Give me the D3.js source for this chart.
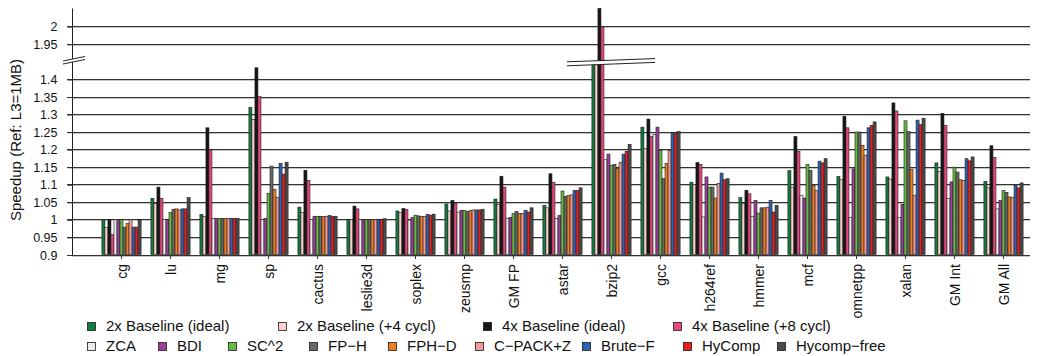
<!DOCTYPE html>
<html>
<head>
<meta charset="utf-8">
<script src="https://cdn.jsdelivr.net/npm/d3@7"></script>
<style>
  body { margin: 0; background: #fff; }
  text { font-family: "Liberation Sans", Arial, Helvetica, sans-serif; fill: #111; }
</style>
</head>
<body>
<div id="chart"></div>
<script>
// benchmarks on the x axis
var benchmarks = ["cg", "lu", "mg", "sp", "cactus", "leslie3d", "soplex", "zeusmp", "GM FP",
    "astar", "bzip2", "gcc", "h264ref", "hmmer", "mcf", "omnetpp", "xalan", "GM Int", "GM All"];

var seriesNames = ["2x Baseline (ideal)", "2x Baseline (+4 cycl)", "4x Baseline (ideal)", "4x Baseline (+8 cycl)",
    "ZCA", "BDI", "SC^2", "FP\u2212H", "FPH\u2212D", "C\u2212PACK+Z", "Brute\u2212F", "HyComp", "Hycomp\u2212free"];

var seriesColors = ["#127a3c", "#fbd0d0", "#161616", "#e8487c", "#ececec", "#9c3f9c", "#66bb44",
    "#686868", "#f07f1f", "#f39a9a", "#2f63b0", "#e6201f", "#4b4b4b"];

// speedup values, one per benchmark (bzip2 2x bars are hidden by the axis break)
var base2xIdeal = [1.0, 1.06, 1.014, 1.319, 1.035, 1.0, 1.024, 1.044, 1.058, 1.04, 1.62, 1.263, 1.106, 1.062, 1.139, 1.122, 1.121, 1.161, 1.108];
var base2xLat   = [0.977, 1.045, 1.008, 1.285, 1.02, 1.0, 1.019, 1.024, 1.043, 1.033, 1.6, 1.202, 1.1, 1.045, 1.092, 1.113, 1.115, 1.137, 1.09];
var base4xIdeal = [1.0, 1.092, 1.261, 1.432, 1.14, 1.038, 1.031, 1.054, 1.123, 1.13, 2.06, 1.286, 1.162, 1.083, 1.236, 1.294, 1.332, 1.302, 1.21];
var base4xLat   = [0.957, 1.06, 1.198, 1.35, 1.111, 1.03, 1.028, 1.045, 1.092, 1.106, 1.998, 1.237, 1.157, 1.073, 1.194, 1.261, 1.309, 1.268, 1.176];
var zca         = [1.0, 1.0, 1.003, 1.0, 1.0, 1.0, 0.998, 1.021, 1.003, 1.003, 1.17, 1.242, 1.007, 1.009, 1.069, 1.005, 1.005, 1.059, 1.03];
var bdi         = [1.0, 1.0, 1.003, 1.003, 1.009, 1.0, 1.005, 1.026, 1.006, 1.011, 1.186, 1.263, 1.121, 1.054, 1.061, 1.144, 1.043, 1.107, 1.054];
var sc2         = [1.0, 1.02, 1.003, 1.074, 1.009, 1.0, 1.012, 1.025, 1.017, 1.081, 1.154, 1.197, 1.092, 1.018, 1.156, 1.249, 1.281, 1.149, 1.082];
var fpH         = [0.978, 1.029, 1.003, 1.152, 1.009, 1.0, 1.01, 1.023, 1.023, 1.066, 1.157, 1.116, 1.092, 1.033, 1.14, 1.249, 1.25, 1.135, 1.077];
var fphD        = [0.988, 1.03, 1.003, 1.086, 1.008, 1.0, 1.008, 1.025, 1.017, 1.068, 1.145, 1.159, 1.061, 1.033, 1.097, 1.211, 1.143, 1.113, 1.064];
var cpackZ      = [1.0, 1.027, 1.003, 1.062, 1.009, 1.0, 1.008, 1.027, 1.017, 1.07, 1.163, 1.197, 1.102, 1.035, 1.083, 1.183, 1.069, 1.111, 1.062];
var bruteF      = [0.978, 1.03, 1.003, 1.16, 1.011, 1.0, 1.014, 1.027, 1.026, 1.082, 1.186, 1.247, 1.132, 1.054, 1.166, 1.261, 1.283, 1.173, 1.097];
var hycomp      = [0.978, 1.03, 1.003, 1.129, 1.009, 1.0, 1.012, 1.027, 1.021, 1.082, 1.194, 1.245, 1.113, 1.021, 1.161, 1.268, 1.27, 1.167, 1.09];
var hycompFree  = [1.0, 1.062, 1.003, 1.163, 1.009, 1.002, 1.015, 1.029, 1.033, 1.09, 1.214, 1.25, 1.116, 1.04, 1.173, 1.278, 1.288, 1.178, 1.104];

var yTicksLow = [0.9, 0.95, 1, 1.05, 1.1, 1.15, 1.2, 1.25, 1.3, 1.35, 1.4];
var yTicksHigh = [1.95, 2];

var allSeries = [base2xIdeal, base2xLat, base4xIdeal, base4xLat, zca, bdi, sc2, fpH, fphD, cpackZ, bruteF, hycomp, hycompFree];

var W = 1044, H = 356;
var plotL = 72, plotR = 1030, plotB = 254.5, plotT = 8.5, brk = 61.5;

var svg = d3.select("#chart").append("svg")
    .attr("width", W)
    .attr("height", H);

svg.append("rect").attr("width", W).attr("height", H).attr("fill", "#fff");

// broken y axis: two linear pieces sharing the same px-per-unit
var yLow = d3.scaleLinear().domain([0.9, 1.45]).range([plotB, brk]).clamp(true);
var yHigh = d3.scaleLinear().domain([1.9, 2.05]).range([brk, plotT]).clamp(true);
function yPos(v) { return v <= 1.45 ? yLow(v) : yHigh(v); }
var fmt = d3.format("~g");

var x0 = d3.scaleBand().domain(benchmarks).range([97, 1028]).paddingInner(0.2).paddingOuter(0.1);
var x1 = d3.scaleBand().domain(seriesNames).range([0, x0.bandwidth()]);

// gridlines (with a faint shadow like the original)
var gridVals = yTicksLow.concat(yTicksHigh);
var grid = svg.append("g");
grid.selectAll("line.sh").data(gridVals).join("line")
    .attr("class", "sh")
    .attr("x1", plotL).attr("x2", plotR)
    .attr("y1", d => Math.round(yPos(d)) + 1.5).attr("y2", d => Math.round(yPos(d)) + 1.5)
    .attr("stroke", "#c4c4c4").attr("stroke-width", 1);
grid.selectAll("line.gl").data(gridVals).join("line")
    .attr("class", "gl")
    .attr("x1", plotL - 5).attr("x2", plotR)
    .attr("y1", d => Math.round(yPos(d)) + 0.5).attr("y2", d => Math.round(yPos(d)) + 0.5)
    .attr("stroke", "#333").attr("stroke-width", 1);

// bars
var rows = [];
benchmarks.forEach(function (b, i) {
    seriesNames.forEach(function (s, j) {
        rows.push({ bench: b, key: s, value: allSeries[j][i], color: seriesColors[j] });
    });
});

svg.append("g").selectAll("rect").data(rows).join("rect")
    .attr("x", d => x0(d.bench) + x1(d.key))
    .attr("y", d => yPos(d.value))
    .attr("width", x1.bandwidth())
    .attr("height", d => yPos(0.9) - yPos(d.value))
    .attr("fill", d => d.color)
    .attr("stroke", "#1c1c1c")
    .attr("stroke-width", 0.6);

// break band over bzip2
var bx = x0("bzip2");
var bL = bx - 25, bR = bx + x0.bandwidth() + 24;
var band = svg.append("g");
band.append("path")
    .attr("d", "M" + bL + "," + (brk + 0.3) + "L" + bR + "," + (brk - 2.9) + "L" + bR + "," + (brk + 0.9) + "L" + bL + "," + (brk + 4.3) + "Z")
    .attr("fill", "#fff");
band.append("line").attr("x1", bL).attr("y1", brk + 0.3).attr("x2", bR).attr("y2", brk - 2.9)
    .attr("stroke", "#222").attr("stroke-width", 1);
band.append("line").attr("x1", bL).attr("y1", brk + 4.3).attr("x2", bR).attr("y2", brk + 0.9)
    .attr("stroke", "#222").attr("stroke-width", 1);

// y axis
svg.append("line")
    .attr("x1", plotL + 0.5).attr("x2", plotL + 0.5)
    .attr("y1", plotT).attr("y2", plotB + 0.5)
    .attr("stroke", "#222");

function styleAxis(g) {
    g.select(".domain").remove();
    g.selectAll(".tick line").attr("stroke", "#333");
    g.selectAll(".tick text").attr("font-size", "12.5px").attr("fill", "#111");
}
svg.append("g").attr("transform", "translate(" + (plotL + 0.5) + ",0.5)")
    .call(d3.axisLeft(yLow).tickValues(yTicksLow).tickFormat(fmt).tickSize(5).tickPadding(10))
    .call(styleAxis);
svg.append("g").attr("transform", "translate(" + (plotL + 0.5) + ",0.5)")
    .call(d3.axisLeft(yHigh).tickValues(yTicksHigh).tickFormat(fmt).tickSize(5).tickPadding(10))
    .call(styleAxis);

// break mark on the y axis
var ax = svg.append("g");
ax.append("path")
    .attr("d", "M" + (plotL - 9) + "," + (brk - 0.5) + "L" + (plotL + 13) + "," + (brk - 5) + "L" + (plotL + 13) + "," + (brk - 2) + "L" + (plotL - 9) + "," + (brk + 2.5) + "Z")
    .attr("fill", "#fff");
ax.append("line").attr("x1", plotL - 9).attr("y1", brk - 0.5).attr("x2", plotL + 13).attr("y2", brk - 5)
    .attr("stroke", "#222");
ax.append("line").attr("x1", plotL - 9).attr("y1", brk + 2.5).attr("x2", plotL + 13).attr("y2", brk - 2)
    .attr("stroke", "#222");

svg.append("text")
    .attr("transform", "translate(21,140) rotate(-90)")
    .attr("text-anchor", "middle")
    .attr("font-size", "15px")
    .text("Speedup (Ref: L3=1MB)");

// x axis with rotated labels
var xg = svg.append("g").attr("transform", "translate(0," + (plotB + 0.5) + ")")
    .call(d3.axisBottom(x0).tickSize(4).tickSizeOuter(0));
xg.select(".domain").remove();
xg.selectAll(".tick line").attr("stroke", "#333");
xg.selectAll(".tick text")
    .attr("font-size", "14px")
    .attr("fill", "#111")
    .attr("transform", "rotate(-90)")
    .attr("text-anchor", "end")
    .attr("x", -9)
    .attr("y", 0)
    .attr("dy", "0.36em");

// legend, two rows
var legendRows = [
    { y: 326, x: [87, 278, 483, 673], idx: [0, 1, 2, 3] },
    { y: 346, x: [87, 158, 228, 309, 388, 475, 582, 683, 777], idx: [4, 5, 6, 7, 8, 9, 10, 11, 12] }
];
var lg = svg.append("g");
legendRows.forEach(function (r) {
    r.idx.forEach(function (j, k) {
        var it = lg.append("g").attr("transform", "translate(" + r.x[k] + "," + r.y + ")");
        it.append("rect")
            .attr("x", 0.5).attr("y", -3.5)
            .attr("width", 8).attr("height", 8)
            .attr("fill", seriesColors[j])
            .attr("stroke", "#1c1c1c").attr("stroke-width", 0.8);
        it.append("text")
            .attr("x", 19).attr("y", 0)
            .attr("dy", "0.35em")
            .attr("font-size", "15px")
            .text(seriesNames[j]);
    });
});
</script>
</body>
</html>
